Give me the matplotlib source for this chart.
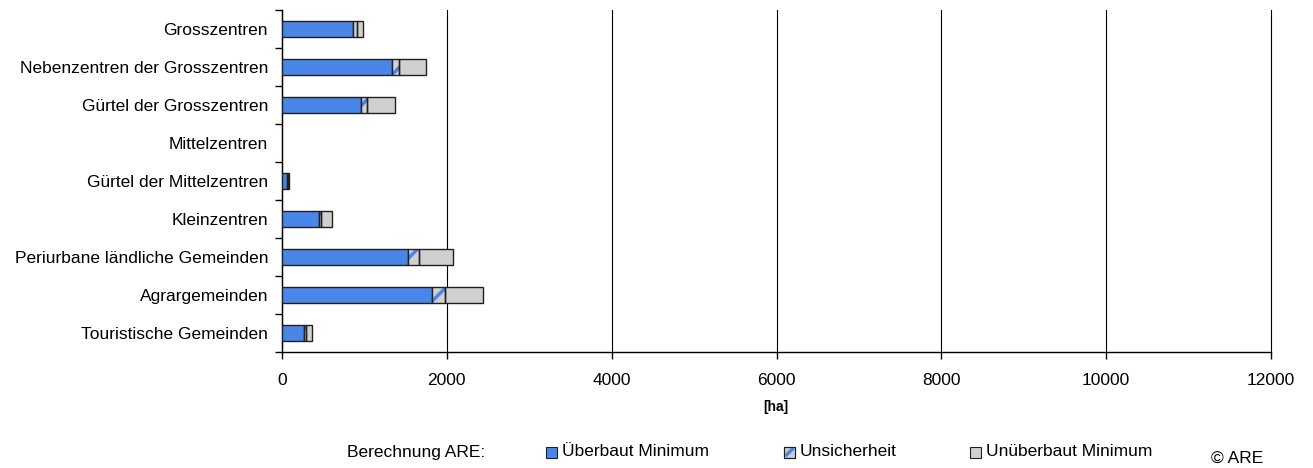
import matplotlib
matplotlib.use("Agg")
import matplotlib.pyplot as plt
from matplotlib.patches import Rectangle
from matplotlib.lines import Line2D
import numpy as np

plt.rcParams['font.family'] = ['Liberation Sans', 'DejaVu Sans']
plt.rcParams['hatch.linewidth'] = 2.5

categories = ["Grosszentren", "Nebenzentren der Grosszentren", "Gürtel der Grosszentren",
              "Mittelzentren", "Gürtel der Mittelzentren", "Kleinzentren",
              "Periurbane ländliche Gemeinden", "Agrargemeinden", "Touristische Gemeinden"]
ueberbaut_min = [866, 1332, 956, 0, 57, 446, 1523, 1819, 263]
unsicherheit = [45, 93, 81, 0, 20, 28, 138, 158, 29]
unueberbaut_min = [77, 321, 336, 0, 5, 137, 413, 457, 69]
xticks = [0, 2000, 4000, 6000, 8000, 10000, 12000]

BLUE = "#4a86e8"
GRAY = "#d0d0d0"
FS = 12.5

W, H = 1313, 468
fig = plt.figure(figsize=(W / 100, H / 100), dpi=100)
ax = fig.add_axes([282 / W, 1 - 352 / H, (1271 - 282) / W, (352 - 10) / H])

y = np.arange(len(categories))
h = 0.4
u = np.array(ueberbaut_min, dtype=float)
s = np.array(unsicherheit, dtype=float)
g = np.array(unueberbaut_min, dtype=float)
m = (u + s + g) > 0
ax.barh(y[m], u[m], height=h, color=BLUE, edgecolor="#202020", linewidth=1, zorder=3)
ax.barh(y[m], s[m], left=u[m], height=h, color=GRAY, edgecolor=BLUE, hatch="/", linewidth=0, zorder=3)
ax.barh(y[m], s[m], left=u[m], height=h, color="none", edgecolor="#202020", linewidth=1, zorder=4)
ax.barh(y[m], g[m], left=(u + s)[m], height=h, color=GRAY, edgecolor="#202020", linewidth=1, zorder=3)

ax.set_xlim(0, 12000)
ax.set_ylim(len(categories) - 0.5, -0.5)
ax.set_xticks(xticks)
ax.set_xticklabels([str(t) for t in xticks], fontsize=FS)
ax.set_yticks(y)
ax.set_yticklabels(categories, fontsize=FS)
ax.tick_params(axis='y', which='major', length=0, pad=10)
ax.set_yticks(np.arange(-0.5, len(categories), 1), minor=True)
ax.tick_params(axis='y', which='minor', length=5, width=1, color='black', direction='out')
ax.tick_params(axis='x', which='major', length=5, width=1, color='black', direction='out', pad=10)
ax.xaxis.grid(True, color="black", linewidth=0.8, zorder=0)
for gl in ax.get_xgridlines():
    gl.set_clip_on(False)
ax.set_axisbelow(True)
for sp in ["top", "right"]:
    ax.spines[sp].set_visible(False)
for sp in ["left", "bottom"]:
    ax.spines[sp].set_color("black")
    ax.spines[sp].set_linewidth(1)

fig.text(776 / W, 1 - 407 / H, "[ha]", fontsize=10, fontweight="bold", ha="center", va="center")

# legend
ly = 1 - 452 / H
fig.text(347 / W, ly, "Berechnung ARE:", fontsize=FS, ha="left", va="center")
items = [(546, "Überbaut Minimum", BLUE, False), (784, "Unsicherheit", GRAY, True),
         (970, "Unüberbaut Minimum", GRAY, False)]
sq = 11
for x0, label, col, striped in items:
    y0 = H - 452 - sq / 2
    r = Rectangle((x0 / W, y0 / H), sq / W, sq / H, transform=fig.transFigure,
                  facecolor=col, edgecolor="#202020", linewidth=0.8, zorder=2)
    fig.patches.append(r)
    if striped:
        ln = Line2D([(x0 + 1.5) / W, (x0 + sq - 1.5) / W], [(y0 + 1.5) / H, (y0 + sq - 1.5) / H],
                    transform=fig.transFigure, color=BLUE, linewidth=2.5, zorder=3,
                    solid_capstyle="butt")
        fig.lines.append(ln)
        r2 = Rectangle((x0 / W, y0 / H), sq / W, sq / H, transform=fig.transFigure,
                       facecolor="none", edgecolor="#202020", linewidth=0.8, zorder=4)
        fig.patches.append(r2)
    fig.text((x0 + sq + 5) / W, ly, label, fontsize=FS, ha="left", va="center")

fig.text(1237 / W, 1 - 458 / H, "© ARE", fontsize=FS, ha="center", va="center")

fig.savefig("out.png", dpi=100)
